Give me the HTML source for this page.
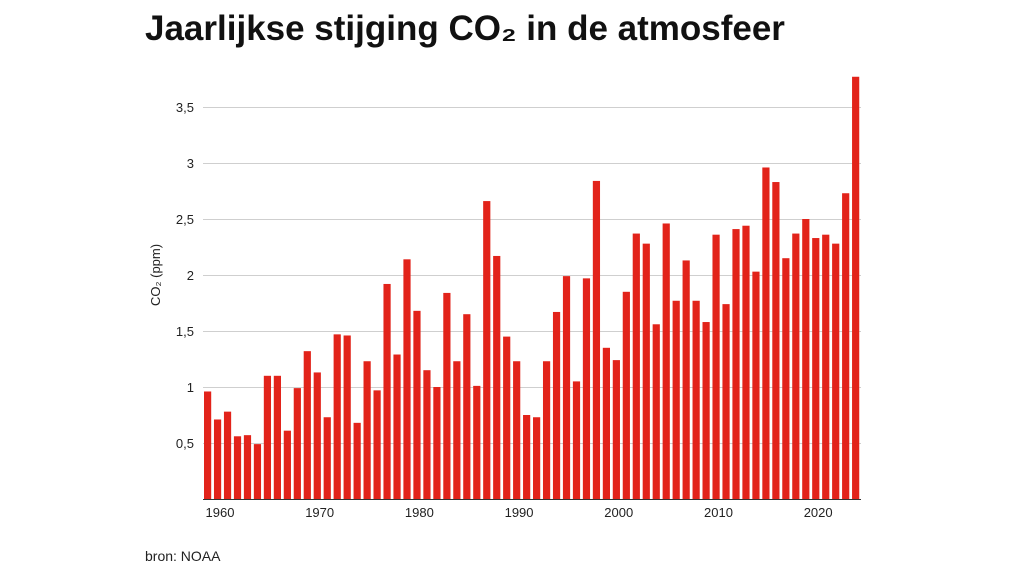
<!DOCTYPE html>
<html><head><meta charset="utf-8"><style>
body{margin:0;background:#fff;width:1024px;height:576px;overflow:hidden;font-family:"Liberation Sans","DejaVu Sans",sans-serif}
</style></head><body>
<svg width="1024" height="576" xmlns="http://www.w3.org/2000/svg" font-family="Liberation Sans, DejaVu Sans, sans-serif">
<text x="145" y="40" font-size="35" font-weight="bold" fill="#111">Jaarlijkse stijging CO₂ in de atmosfeer</text>
<g id="grid" stroke="#cfcfcf" stroke-width="1"></g>
<g id="bars" fill="#e2231a"></g>
<line x1="203" x2="861" y1="499.5" y2="499.5" stroke="#333" stroke-width="1"/>
<g id="ylab" font-size="13" fill="#222" text-anchor="end"></g>
<g id="xlab" font-size="13" fill="#222" text-anchor="middle"></g>
<text transform="translate(160,275) rotate(-90)" font-size="13" fill="#222" text-anchor="middle">CO₂ (ppm)</text>
<text x="145" y="561" font-size="14" fill="#222">bron: NOAA</text>
</svg>
<script>
var v=[0.96,0.71,0.78,0.56,0.57,0.49,1.10,1.10,0.61,0.99,1.32,1.13,0.73,1.47,1.46,0.68,1.23,0.97,1.92,1.29,2.14,1.68,1.15,1.00,1.84,1.23,1.65,1.01,2.66,2.17,1.45,1.23,0.75,0.73,1.23,1.67,1.99,1.05,1.97,2.84,1.35,1.24,1.85,2.37,2.28,1.56,2.46,1.77,2.13,1.77,1.58,2.36,1.74,2.41,2.44,2.03,2.96,2.83,2.15,2.37,2.50,2.33,2.36,2.28,2.73,3.77];
var ns="http://www.w3.org/2000/svg";
function el(p,t,a,txt){var e=document.createElementNS(ns,t);for(var k in a)e.setAttribute(k,a[k]);if(txt)e.textContent=txt;document.getElementById(p).appendChild(e);}
var y0=499,s=112;
[0.5,1,1.5,2,2.5,3,3.5].forEach(function(t){var y=y0-t*s;el("grid","line",{x1:203,x2:861,y1:y+.5,y2:y+.5});el("ylab","text",{x:194,y:y+5},String(t).replace(".",","));});
v.forEach(function(d,i){var x=204+i*9.97;el("bars","rect",{x:x,y:y0-d*s,width:7.2,height:d*s});});
for(var yr=1960;yr<=2020;yr+=10){var i=yr-1959;el("xlab","text",{x:210+i*9.97,y:517},String(yr));}
</script>
</body></html>
